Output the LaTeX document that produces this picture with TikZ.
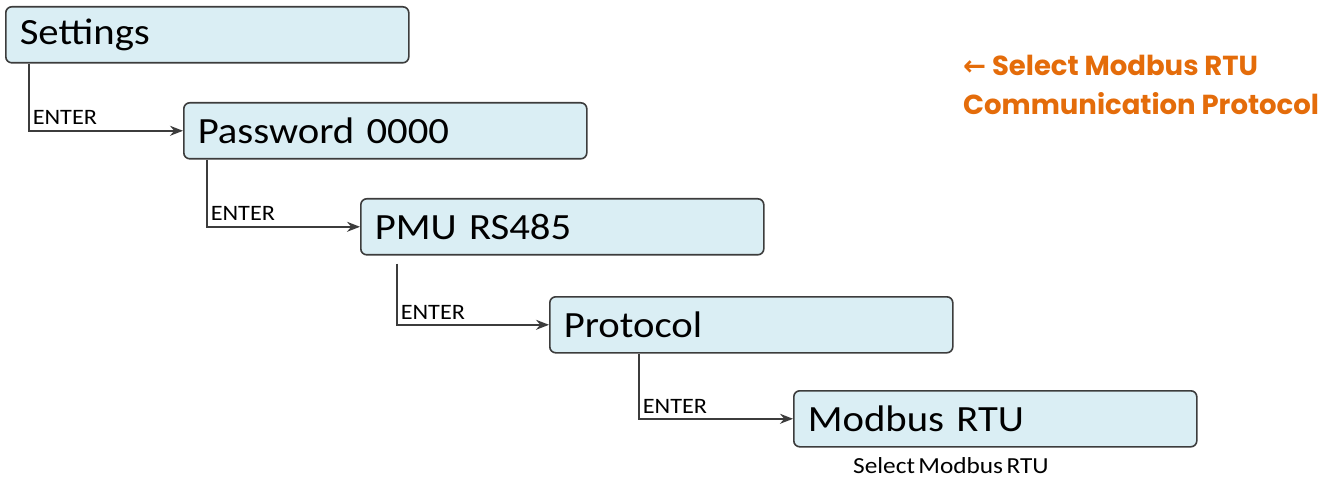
\documentclass[tikz,border=0pt]{standalone}
\usepackage{fontspec}
\setmainfont{Carlito}[FakeStretch=1.1,WordSpace=0.6]
\newfontfamily\notefont{Poppins}
\newfontfamily\symfont{DejaVu Sans}
\usepackage{tikz}
\usetikzlibrary{arrows.meta}

\definecolor{boxfill}{RGB}{218,238,244}
\definecolor{boxline}{RGB}{60,60,60}
\definecolor{noteorange}{RGB}{228,108,10}

\tikzset{
  menubox/.style={draw=boxline,line width=1.6pt,fill=boxfill,rounded corners=6pt,
    anchor=north west,minimum width=403pt,minimum height=56pt,inner ysep=0pt,
    inner xsep=14pt,text width=375pt,align=left,
    font=\fontsize{37}{40}\selectfont},
  conn/.style={draw=boxline,line width=1.6pt,-{Stealth[length=13pt,width=10pt]}},
  enter/.style={font=\fontsize{22}{23}\selectfont,inner xsep=3pt,inner ysep=5pt,anchor=south west}
}

\begin{document}
\begin{tikzpicture}[x=1pt,y=-1pt]
  \useasboundingbox (0,0) rectangle (1330,478);

  \node[menubox] (settings) at (5,6)    {Settings};
  \node[menubox] (password) at (183,102) {Password 0000};
  \node[menubox] (pmu)      at (360,198) {PMU RS485};
  \node[menubox] (protocol) at (549,296) {Protocol};
  \node[menubox] (modbus)   at (793,390) {Modbus RTU};

  \draw[conn] ([xshift=24pt]settings.south west) |- node[enter,pos=0.5]{ENTER} (password.west);
  \draw[conn] ([xshift=24pt]password.south west) |- node[enter,pos=0.5]{ENTER} (pmu.west);
  \draw[conn] ([xshift=37pt,yshift=-8pt]pmu.south west) |- node[enter,pos=0.5]{ENTER} (protocol.west);
  \draw[conn] ([xshift=90pt]protocol.south west) |- node[enter,pos=0.5]{ENTER} (modbus.west);

  \node[anchor=base west,inner sep=0pt,font=\fontsize{23}{24}\selectfont] (modbusnote)
    at ([xshift=60pt,yshift=-26pt]modbus.south west) {Select Modbus RTU};

  % orange hint at the top right (base = last line)
  \node[anchor=base west,inner sep=0pt,align=left,text=noteorange,
        font=\notefont\bfseries\fontsize{27.5}{39}\selectfont] (hint) at (963,115)
    {{\symfont\bfseries ←} Select Modbus RTU\\Communication Protocol};
\end{tikzpicture}
\end{document}
